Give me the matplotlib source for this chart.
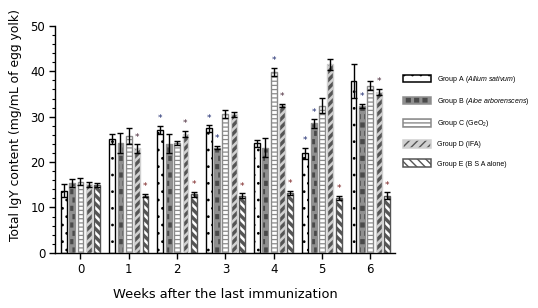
import warnings
warnings.filterwarnings("ignore")
import numpy as np
import matplotlib
matplotlib.use("Agg")
import matplotlib.pyplot as plt
from matplotlib import hatch as mhatch
from matplotlib.path import Path
from matplotlib.patches import Patch
from matplotlib.legend_handler import HandlerTuple
from matplotlib.ticker import MultipleLocator

# ---------------- data ----------------
weeks = [0, 1, 2, 3, 4, 5, 6]
group_labels = [
    "Group A ($\\it{Allium\\ sativum}$)",
    "Group B ($\\it{Aloe\\ arborenscens}$)",
    "Group C (GeO$_{2}$)",
    "Group D (IFA)",
    "Group E (B S A alone)",
]
group_a = [13.7, 25.0, 27.1, 27.4, 24.1, 21.9, 37.9]
group_b = [15.4, 24.3, 24.0, 23.2, 23.2, 28.5, 32.4]
group_c = [15.7, 25.7, 24.2, 30.5, 39.8, 32.4, 36.8]
group_d = [15.1, 23.0, 26.2, 30.5, 32.5, 41.5, 35.4]
group_e = [14.9, 12.6, 12.9, 12.6, 13.2, 12.1, 12.6]
err_a = [1.5, 1.1, 0.9, 0.7, 0.7, 1.3, 3.7]
err_b = [0.9, 2.2, 2.1, 0.3, 2.0, 0.9, 0.4]
err_c = [0.8, 1.7, 0.5, 0.9, 0.9, 1.7, 1.0]
err_d = [0.6, 0.9, 0.7, 0.6, 0.4, 1.2, 0.7]
err_e = [0.5, 0.4, 0.6, 0.5, 0.5, 0.5, 0.7]
star_a = [0, 0, 1, 1, 0, 1, 0]
star_b = [0, 0, 0, 1, 0, 1, 1]
star_c = [0, 0, 0, 0, 1, 0, 0]
star_d = [0, 1, 1, 0, 1, 0, 1]
star_e = [0, 1, 1, 1, 1, 1, 1]
xlabel = "Weeks after the last immunization"
ylabel = "Total IgY content (mg/mL of egg yolk)"

values = [group_a, group_b, group_c, group_d, group_e]
errors = [err_a, err_b, err_c, err_d, err_e]
stars = [star_a, star_b, star_c, star_d, star_e]


# custom hatches: filled squares ('s') and small dots ('d')
class SquareHatch(mhatch.Shapes):
    filled = True
    size = 0.45

    def __init__(self, hatch, density):
        self.num_rows = hatch.count('s') * density
        self.shape_vertices = np.array([[-0.5, -0.5], [0.5, -0.5], [0.5, 0.5],
                                        [-0.5, 0.5], [-0.5, -0.5]])
        self.shape_codes = np.array([Path.MOVETO, Path.LINETO, Path.LINETO,
                                     Path.LINETO, Path.CLOSEPOLY],
                                    dtype=Path.code_type)
        super().__init__(hatch, density)


class DotHatch(mhatch.Circles):
    filled = True
    size = 0.08

    def __init__(self, hatch, density):
        self.num_rows = hatch.count('d') * density
        super().__init__(hatch, density)


mhatch._hatch_types.append(SquareHatch)
mhatch._hatch_types.append(DotHatch)

styles = [
    dict(face="white", hatch="dd", hcol="black", edge="black", hlw=1.0),
    dict(face="#8f8f8f", hatch="ss", hcol="#4a4a4a", edge="#8f8f8f", hlw=1.0),
    dict(face="white", hatch="----", hcol="#8a8a8a", edge="#8a8a8a", hlw=0.9),
    dict(face="#d0d0d0", hatch="////", hcol="#555555", edge="#d0d0d0", hlw=2.4),
    dict(face="white", hatch="\\\\\\\\", hcol="#555555", edge="#555555", hlw=2.4),
]
star_colors = ["#1c2a6e", "#1c2a6e", "#1c2a6e", "#4a2a3a", "#7a2222"]

plt.rcParams['font.family'] = ['DejaVu Sans']
plt.rcParams['hatch.linewidth'] = 1.0
plt.rcParams['mathtext.fontset'] = 'custom'
plt.rcParams['mathtext.rm'] = 'Liberation Sans'
plt.rcParams['mathtext.it'] = 'Liberation Sans:italic'

fig = plt.figure(figsize=(5.38, 3.08), dpi=100)
ax = fig.add_axes([0.102, 0.179, 0.632, 0.737])

pitch = 0.173
width = 0.12
x = np.array(weeks, dtype=float)
handles = []
for i, (vals, errs, st, sty) in enumerate(zip(values, errors, stars, styles)):
    pos = x + (i - 2) * pitch
    b1 = ax.bar(pos, vals, width, color=sty["face"], edgecolor=sty["hcol"],
                hatch=sty["hatch"], linewidth=0, zorder=2)
    for p in b1:
        if hasattr(p, "set_hatch_linewidth"):
            p.set_hatch_linewidth(sty["hlw"])
    ax.bar(pos, vals, width, fill=False, edgecolor=sty["edge"], linewidth=1.0,
           zorder=3)
    ax.errorbar(pos, vals, yerr=errs, fmt="none", ecolor="black",
                elinewidth=1.0, capsize=2.2, capthick=1.0, zorder=4)
    for xp, v, e, s in zip(pos, vals, errs, st):
        if s:
            ax.text(xp, v + e + 0.6, "*", ha="center", va="bottom",
                    fontsize=6.5, color=star_colors[i], zorder=5)
    h1 = Patch(facecolor=sty["face"], edgecolor=sty["hcol"], hatch=sty["hatch"],
               linewidth=0)
    if hasattr(h1, "set_hatch_linewidth"):
        h1.set_hatch_linewidth(sty["hlw"])
    h2 = Patch(fill=False, edgecolor=sty["edge"], linewidth=1.1)
    handles.append((h1, h2))

ax.set_xlim(-0.53, 6.51)
ax.set_ylim(0, 50)
ax.set_xticks(weeks)
ax.set_xticklabels([str(w) for w in weeks])
ax.yaxis.set_major_locator(MultipleLocator(10))
ax.yaxis.set_minor_locator(MultipleLocator(2))
ax.spines["top"].set_visible(False)
ax.spines["right"].set_visible(False)
for s in ("left", "bottom"):
    ax.spines[s].set_linewidth(1.0)
ax.tick_params(axis="both", which="major", direction="out", length=4,
               width=1.0, labelsize=8.5, pad=3)
ax.tick_params(axis="y", which="minor", direction="out", length=2.5, width=0.8)
ax.set_xlabel(xlabel, fontsize=9.4, labelpad=9)
ax.set_ylabel(ylabel, fontsize=8.9)
ax.yaxis.set_label_coords(-0.098, 0.565)

fig.legend(handles, group_labels, handler_map={tuple: HandlerTuple(ndivide=1)},
           loc="upper left", bbox_to_anchor=(0.749, 0.76), frameon=False,
           prop={"family": "Liberation Sans", "size": 5.0},
           handlelength=4.0, handleheight=1.3, labelspacing=1.6,
           handletextpad=0.85, borderaxespad=0, borderpad=0)

fig.savefig("out.png", dpi=100)
